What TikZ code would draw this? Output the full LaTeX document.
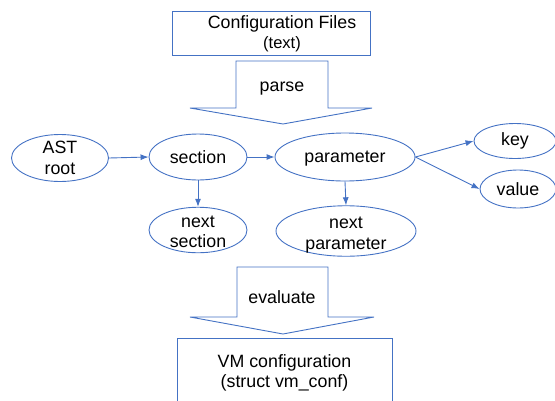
\documentclass[tikz,border=0pt]{standalone}
\usepackage{fontspec}
\setmainfont{Liberation Sans}
\usetikzlibrary{shapes.geometric,arrows.meta}
\definecolor{bl}{RGB}{68,114,196}
\newcommand{\dn}[2]{\raisebox{-#1}[\height][\depth]{#2}}
\tikzset{
  x=1pt,y=-1pt,
  every node/.style={font=\fontsize{17.8}{20.5}\selectfont,text=black},
  ell/.style={ellipse,draw=bl,line width=0.9pt,inner sep=0pt,align=center},
  box/.style={rectangle,draw=bl,line width=0.9pt,inner sep=0pt,align=center},
  blk/.style={draw=bl,line width=0.9pt,fill=white,line join=miter},
  con/.style={draw=bl,line width=0.9pt,-{Latex[length=8pt,width=6pt]}}
}
\begin{document}
\begin{tikzpicture}
\useasboundingbox (0,0) rectangle (555,400);
\clip (0,0) rectangle (555,400);
% top box
\node[box,minimum width=198pt,minimum height=44pt] (cfg) at (271,33) {};
\node[align=center] (cfgtext) at (282,34)
  {Configuration Files\\[0pt]{\fontsize{16.5}{19}\selectfont (text)}};
% parse block arrow
\draw[blk] (236,61) -- (328,61) -- (328,108) -- (372,108) -- (283,124) -- (190,108) -- (236,108) -- cycle;
\node (parse) at (282,89) {parse};
% ellipses
\node[ell,minimum width=97pt,minimum height=47pt] (ast) at (60,158) {AST\\root};
\node[ell,minimum width=98pt,minimum height=46pt] (sec) at (198,157) {section};
\node[ell,minimum width=98pt,minimum height=42pt] (nsec) at (198,230) {\dn{2pt}{next}\\\dn{2pt}{section}};
\node[ell,minimum width=140pt,minimum height=48pt] (par) at (345,157) {\dn{2pt}{parameter}};
\node[ell,minimum width=140pt,minimum height=48pt] (npar) at (346,231) {\dn{4pt}{next}\\\dn{4pt}{parameter}};
\node[ell,minimum width=82pt,minimum height=35pt] (key) at (515,141) {key};
\node[ell,minimum width=76pt,minimum height=38pt] (val) at (518,189) {value};
% connectors
\draw[con] (ast.east) -- (sec.west);
\draw[con] (sec.east) -- (par.west);
\draw[con] (sec.south) -- (nsec.north);
\draw[con] (par.south) -- (npar.north);
\draw[con] (par.east) -- (key.west);
\draw[con] (par.east) -- (val.west);
% evaluate block arrow
\draw[blk] (237,267) -- (328,267) -- (328,317) -- (374,317) -- (283,334) -- (190,317) -- (237,317) -- cycle;
\node (eval) at (282,297) {evaluate};
% VM box
\node[box,minimum width=215pt,minimum height=70pt] (vm) at (284.5,373)
  {VM configuration\\(struct vm\_conf)};
\end{tikzpicture}
\end{document}
